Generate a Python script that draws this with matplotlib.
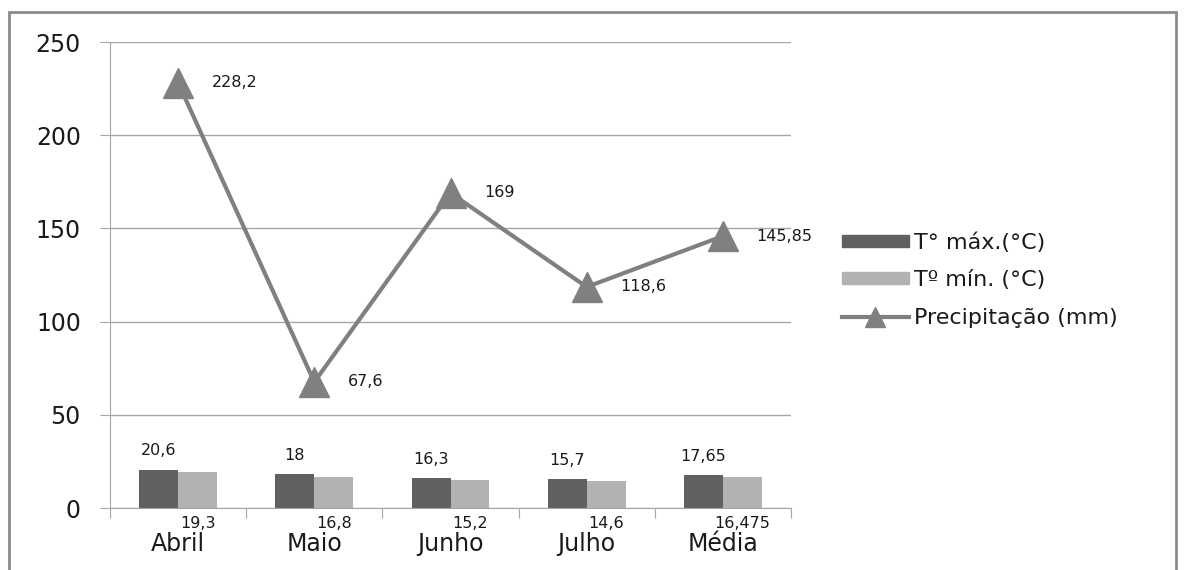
import numpy as np
import matplotlib.pyplot as plt
from matplotlib.patches import Rectangle
from matplotlib.lines import Line2D
from matplotlib.patches import Patch

plt.rcParams['font.family'] = ['DejaVu Sans']

meses = ['Abril', 'Maio', 'Junho', 'Julho', 'Média']
t_max = [20.6, 18, 16.3, 15.7, 17.65]
t_min = [19.3, 16.8, 15.2, 14.6, 16.475]
precip = [228.2, 67.6, 169, 118.6, 145.85]

lab_max = ['20,6', '18', '16,3', '15,7', '17,65']
lab_min = ['19,3', '16,8', '15,2', '14,6', '16,475']
lab_prec = ['228,2', '67,6', '169', '118,6', '145,85']

c_max = '#606060'
c_min = '#b2b2b2'
c_line = '#808080'
c_grid = '#a6a6a6'
c_txt = '#1a1a1a'

fig = plt.figure(figsize=(11.84, 5.70), dpi=100)
ax = fig.add_axes([110 / 1184, 1 - 508 / 570, 681 / 1184, 466 / 570])

x = np.arange(len(meses))
w = 0.285
ax.bar(x - w / 2, t_max, w, color=c_max, zorder=2)
ax.bar(x + w / 2, t_min, w, color=c_min, zorder=2)
ax.plot(x, precip, color=c_line, lw=3, marker='^', ms=21, zorder=3)

for i in range(len(meses)):
    ax.annotate(lab_max[i], (x[i] - w / 2, t_max[i]), xytext=(0, 8), textcoords='offset points',
                ha='center', va='bottom', fontsize=11.5, color=c_txt)
    ax.annotate(lab_min[i], (x[i] + w / 2, 0), xytext=(0, -11), textcoords='offset points',
                ha='center', va='center', fontsize=11.5, color=c_txt)
    ax.annotate(lab_prec[i], (x[i], precip[i]), xytext=(24, 0), textcoords='offset points',
                ha='left', va='center', fontsize=11.5, color=c_txt)

ax.set_xlim(-0.5, 4.5)
ax.set_ylim(0, 250)
ax.set_yticks([0, 50, 100, 150, 200, 250])
ax.yaxis.grid(True, color=c_grid, lw=1)
ax.set_axisbelow(True)

ax.set_xticks(np.arange(-0.5, 5, 1))
ax.set_xticklabels([])
ax.set_xticks(x, minor=True)
ax.set_xticklabels(meses, minor=True, fontsize=17, color=c_txt)
ax.tick_params(axis='x', which='minor', length=0, pad=17)
ax.tick_params(axis='x', which='major', length=7, color=c_grid, direction='out')
ax.tick_params(axis='y', length=7, color=c_grid, labelsize=17, labelcolor=c_txt, pad=14)

for s in ['top', 'right']:
    ax.spines[s].set_visible(False)
for s in ['left', 'bottom']:
    ax.spines[s].set_color(c_grid)

handles = [Patch(color=c_max), Patch(color=c_min),
           Line2D([], [], color=c_line, lw=3, marker='^', ms=14)]
fig.legend(handles, ['T° máx.(°C)', 'Tº mín. (°C)', 'Precipitação (mm)'],
           loc='center left', bbox_to_anchor=(822 / 1184, 1 - 280 / 570),
           frameon=False, fontsize=16, handlelength=3.0, handleheight=0.45,
           handletextpad=0.25, labelspacing=0.78, labelcolor=c_txt)

fig.patches.append(Rectangle((9 / 1184, -0.02), 1167 / 1184, 1.02 - 12 / 570,
                             transform=fig.transFigure, fill=False,
                             edgecolor='#8c8c8c', lw=2))

fig.savefig('out.png', dpi=100, facecolor='white')
